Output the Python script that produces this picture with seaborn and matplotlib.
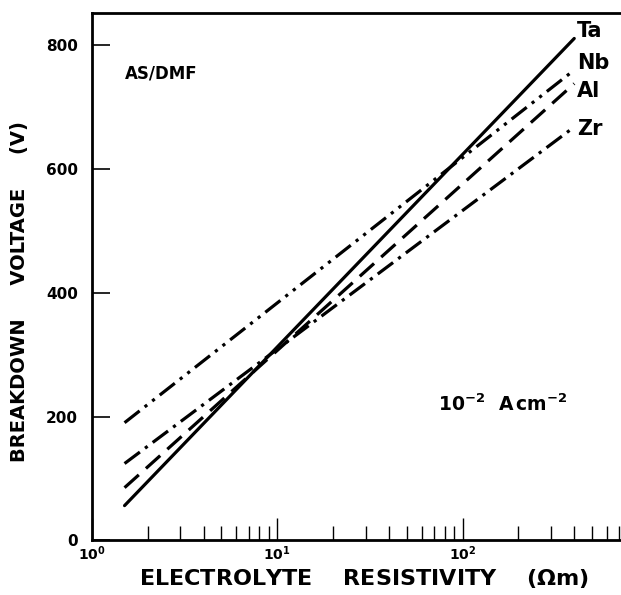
import numpy as np
import pandas as pd
import matplotlib
matplotlib.use("Agg")
import matplotlib.pyplot as plt
import seaborn as sns
from matplotlib.ticker import LogLocator, FixedLocator, NullFormatter

# data (line end points, log x)
metals = ["Ta", "Nb", "Al", "Zr"]
resistivity = [1.5, 400]
ta_voltage = [56, 811]
nb_voltage = [190, 760]
al_voltage = [85, 738]
zr_voltage = [124, 668]

rows = []
for name, vals in zip(metals, [ta_voltage, nb_voltage, al_voltage, zr_voltage]):
    for r, v in zip(resistivity, vals):
        rows.append({"metal": name, "resistivity": r, "voltage": v})
df = pd.DataFrame(rows)

sns.set_style("ticks")
plt.rcParams["font.family"] = ["DejaVu Sans"]
plt.rcParams["font.weight"] = "bold"
for key in ["text.color", "axes.labelcolor", "xtick.color", "ytick.color", "axes.edgecolor"]:
    plt.rcParams[key] = "black"

fig = plt.figure(figsize=(6.21, 5.95), dpi=100)
ax = fig.add_axes([0.148, 0.092, 0.852, 0.886])

dashes = {
    "Ta": "",
    "Nb": (6, 2, 1, 2, 1, 2),
    "Al": (6, 3),
    "Zr": (6, 2, 1, 2),
}
sns.lineplot(data=df, x="resistivity", y="voltage", hue="metal", style="metal",
             dashes=dashes, palette=["black"] * 4, linewidth=2.3, legend=False, ax=ax)

ax.set_xscale("log")
ax.set_xlim(1, 715)
ax.set_ylim(0, 852)

ax.set_yticks([0, 200, 400, 600, 800])
ax.set_yticklabels(["0", "200", "400", "600", "800"], fontsize=11, fontweight="bold")
ax.xaxis.set_major_locator(FixedLocator([1, 10, 100]))
ax.set_xticklabels(["$\\mathbf{10^0}$", "$\\mathbf{10^1}$", "$\\mathbf{10^2}$"], fontsize=10)
ax.xaxis.set_minor_locator(LogLocator(base=10, subs=np.arange(2, 10)))
ax.xaxis.set_minor_formatter(NullFormatter())

ax.tick_params(axis="y", direction="in", length=13, width=1.2, pad=10)
ax.tick_params(axis="x", which="major", direction="in", length=16, width=1.0, pad=3)
ax.tick_params(axis="x", which="minor", direction="in", length=10, width=1.0)

for side in ["left", "bottom", "top"]:
    ax.spines[side].set_linewidth(2)
ax.spines["right"].set_visible(False)

label_y = {"Ta": 823, "Nb": 771, "Al": 726, "Zr": 665}
for name in metals:
    ax.text(415, label_y[name], name, fontsize=15, fontweight="bold",
            va="center", ha="left")

ax.text(0.063, 0.875, "AS/DMF", transform=ax.transAxes, fontsize=12, fontweight="bold")
ax.text(0.655, 0.245, "$\\mathbf{10^{-2}}$  $\\mathbf{A\\,cm^{-2}}$", transform=ax.transAxes,
        fontsize=13.5)

ax.set_xlabel("ELECTROLYTE    RESISTIVITY    ($\\mathbf{\\Omega}$m)", fontsize=16,
              fontweight="bold")
ax.xaxis.set_label_coords(0.514, -0.05)
ax.set_ylabel("BREAKDOWN     VOLTAGE     (V)", fontsize=14, fontweight="bold")
ax.yaxis.set_label_coords(-0.118, 0.472)

fig.savefig("out.png", dpi=100)
